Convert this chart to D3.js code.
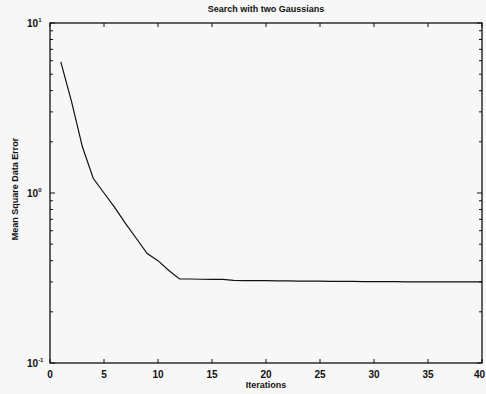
<!DOCTYPE html>
<html>
<head>
<meta charset="utf-8">
<script src="https://cdn.jsdelivr.net/npm/d3@7"></script>
<style>
  html, body { margin: 0; padding: 0; background: #f7f7f7; }
  svg { display: block; }
  text { font-family: "Liberation Sans", Arial, sans-serif; fill: #111; }
</style>
</head>
<body>
<svg id="chart" width="486" height="394"></svg>
<script>
// Mean square data error per iteration
const iterations = [1,2,3,4,5,6,7,8,9,10,11,12,13,14,15,16,17,18,19,20,21,22,23,24,25,26,27,28,29,30,31,32,33,34,35,36,37,38,39,40];
const errorValues = [5.9,3.44,1.87,1.22,1.0,0.82,0.66,0.54,0.44,0.40,0.35,0.312,0.312,0.311,0.31,0.31,0.306,0.305,0.305,0.305,0.304,0.304,0.303,0.303,0.303,0.302,0.302,0.302,0.301,0.301,0.301,0.301,0.30,0.30,0.30,0.30,0.30,0.30,0.30,0.30];
const xTicks = [0,5,10,15,20,25,30,35,40];
const yDecades = [0.1, 1, 10];
const yExponents = ["-1", "0", "1"];

const margin = { left: 50, right: 4, top: 23, bottom: 31 };
const W = 486, H = 394;
const svg = d3.select("#chart");

const x = d3.scaleLinear().domain([0, 40]).range([margin.left, W - margin.right]);
const y = d3.scaleLog().domain([0.1, 10]).range([H - margin.bottom, margin.top]);

const minorTicks = [];
[0.1, 1].forEach(d => { for (let k = 2; k <= 9; k++) minorTicks.push(d * k); });

// frame
svg.append("rect")
  .attr("x", x(0)).attr("y", y(10))
  .attr("width", x(40) - x(0)).attr("height", y(0.1) - y(10))
  .attr("fill", "none").attr("stroke", "#111").attr("stroke-width", 1.3);

const g = svg.append("g").attr("stroke", "#111").attr("stroke-width", 1);

// inward x ticks on bottom and top
xTicks.forEach(t => {
  g.append("line").attr("x1", x(t)).attr("x2", x(t)).attr("y1", y(0.1)).attr("y2", y(0.1) - 4);
  g.append("line").attr("x1", x(t)).attr("x2", x(t)).attr("y1", y(10)).attr("y2", y(10) + 4);
});
// inward y ticks on left and right
yDecades.forEach(t => {
  g.append("line").attr("x1", x(0)).attr("x2", x(0) + 5).attr("y1", y(t)).attr("y2", y(t));
  g.append("line").attr("x1", x(40)).attr("x2", x(40) - 5).attr("y1", y(t)).attr("y2", y(t));
});
minorTicks.forEach(t => {
  g.append("line").attr("x1", x(0)).attr("x2", x(0) + 3).attr("y1", y(t)).attr("y2", y(t));
  g.append("line").attr("x1", x(40)).attr("x2", x(40) - 3).attr("y1", y(t)).attr("y2", y(t));
});

// x tick labels; the last one is kept inside the page edge
svg.append("g").selectAll("text").data(xTicks).join("text")
  .attr("x", d => d === 40 ? W - 1 : x(d)).attr("y", y(0.1) + 15)
  .attr("text-anchor", d => d === 40 ? "end" : "middle")
  .attr("font-size", 10).attr("font-weight", "bold")
  .text(d => d);

// y tick labels: 10 with exponent
yDecades.forEach((t, i) => {
  const txt = svg.append("text")
    .attr("x", 27)
    .attr("y", y(t) + 4)
    .attr("text-anchor", "start")
    .attr("font-size", 10).attr("font-weight", "bold");
  txt.append("tspan").text("10");
  txt.append("tspan").attr("dy", -5).attr("font-size", 6).text(yExponents[i]);
});

// the error curve
const line = d3.line().x(d => x(d[0])).y(d => y(d[1]));
svg.append("path")
  .datum(iterations.map((it, i) => [it, errorValues[i]]))
  .attr("d", line)
  .attr("fill", "none").attr("stroke", "#111").attr("stroke-width", 1.2);

// title and axis labels
svg.append("text")
  .attr("x", 266).attr("y", 12)
  .attr("text-anchor", "middle").attr("font-size", 9).attr("font-weight", "bold")
  .text("Search with two Gaussians");

svg.append("text")
  .attr("x", 266).attr("y", 388)
  .attr("text-anchor", "middle").attr("font-size", 9).attr("font-weight", "bold")
  .text("Iterations");

svg.append("text")
  .attr("transform", "translate(18,189) rotate(-90)")
  .attr("text-anchor", "middle").attr("font-size", 9).attr("font-weight", "bold")
  .text("Mean Square Data Error");
</script>
</body>
</html>
